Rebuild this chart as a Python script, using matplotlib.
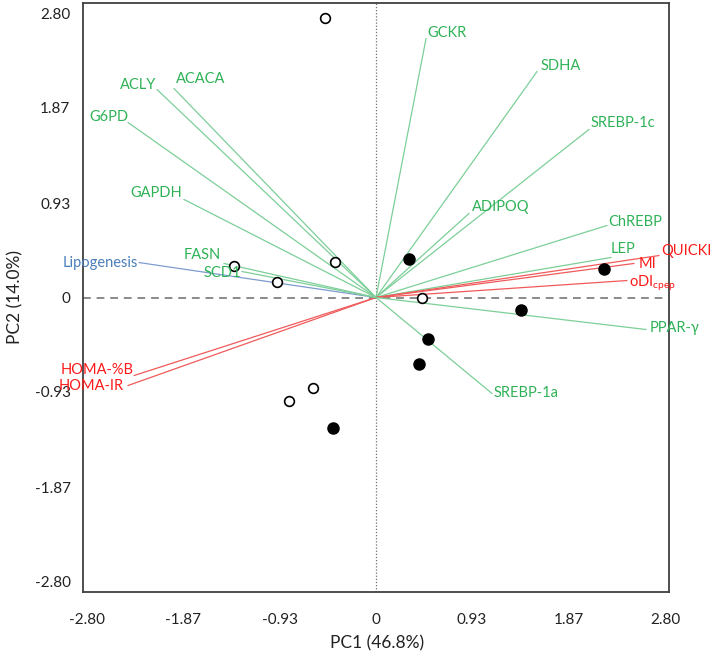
import matplotlib
matplotlib.use("Agg")
import matplotlib.pyplot as plt

plt.rcParams['font.family'] = ['Lato', 'DejaVu Sans']
plt.rcParams['mathtext.fontset'] = 'custom'
plt.rcParams['mathtext.rm'] = 'Lato'
plt.rcParams['mathtext.it'] = 'Lato:italic'

# ---- data ----
open_x = [-0.493, -0.397, -1.373, -0.957, 0.445, -0.609, -0.841]
open_y = [2.756, 0.354, 0.315, 0.148, 0.0, -0.896, -1.024]
filled_x = [0.319, 2.205, 1.402, 0.503, 0.416, -0.416]
filled_y = [0.384, 0.276, -0.128, -0.404, -0.650, -1.289]

var_names = ['GCKR', 'SDHA', 'SREBP-1c', 'ADIPOQ', 'ChREBP', 'LEP',
             'QUICKI', 'MI', r'oDI$_{\rm cpep}$', 'PPAR-γ', 'SREBP-1a',
             'HOMA-%B', 'HOMA-IR', 'Lipogenesis', 'FASN', 'SCD1',
             'GAPDH', 'G6PD', 'ACLY', 'ACACA']
var_x = [0.484, 1.557, 2.060, 0.899, 2.234, 2.273,
         2.737, 2.495, 2.427, 2.611, 1.122,
         -2.340, -2.398, -2.292, -1.470, -1.296,
         -1.857, -2.398, -2.118, -1.954]
var_y = [2.549, 2.224, 1.654, 0.827, 0.709, 0.394,
         0.413, 0.335, 0.167, -0.315, -0.945,
         -0.768, -0.866, 0.344, 0.335, 0.256,
         0.965, 1.722, 2.047, 2.057]
var_group = ['gene', 'gene', 'gene', 'gene', 'gene', 'gene',
             'index', 'index', 'index', 'gene', 'gene',
             'index', 'index', 'lipo', 'gene', 'gene',
             'gene', 'gene', 'gene', 'gene']

tick_vals = [-2.80, -1.87, -0.93, 0, 0.93, 1.87, 2.80]
tick_labels = ['-2.80', '-1.87', '-0.93', '0', '0.93', '1.87', '2.80']

# ---- styles ----
line_col = {'gene': '#7ccf98', 'index': '#f05a5a', 'lipo': '#7f9ccf'}
text_col = {'gene': '#2fb257', 'index': '#ff1a1a', 'lipo': '#4a7ebb'}
# label offsets in pixels (dx, dy) and horizontal alignment
label_off = {
    'GCKR': (1, 6, 'left'), 'SDHA': (4, 6, 'left'), 'SREBP-1c': (2, 7, 'left'),
    'ADIPOQ': (3, 7, 'left'), 'ChREBP': (1, 3, 'left'), 'LEP': (0, 8, 'left'),
    'QUICKI': (2, 5, 'left'), 'MI': (5, -1, 'left'), r'oDI$_{\rm cpep}$': (2, -3, 'left'),
    'PPAR-γ': (4, 1, 'left'), 'SREBP-1a': (2, 0, 'left'),
    'HOMA-%B': (-1, 5, 'right'), 'HOMA-IR': (-4, -1, 'right'),
    'Lipogenesis': (-1, 0, 'right'), 'FASN': (-3, 8, 'right'), 'SCD1': (-1, -1, 'right'),
    'GAPDH': (-2, 7, 'right'), 'G6PD': (0, 6, 'right'), 'ACLY': (-1, 5, 'right'),
    'ACACA': (2, 10, 'left'),
}

fig = plt.figure(figsize=(7.11, 6.57), dpi=100)
ax = fig.add_axes([83/711, 65/657, 586/711, 589/657])
ax.set_xlim(-2.835, 2.835)
ax.set_ylim(-2.90, 2.90)

ax.axhline(0, color='#8a8a8a', lw=1.4, ls=(0, (4, 3)), zorder=1)
ax.axvline(0, color='#707070', lw=0.9, ls=(0, (1, 1.5)), zorder=1)

for name, vx, vy, g in zip(var_names, var_x, var_y, var_group):
    ax.plot([0, vx], [0, vy], color=line_col[g], lw=0.9, zorder=2)
    dx, dy, ha = label_off[name]
    ax.annotate(name, xy=(vx, vy), xytext=(dx, dy), textcoords='offset pixels',
                ha=ha, va='center', color=text_col[g], fontsize=10.5, zorder=4,
                annotation_clip=False)

ax.plot(open_x, open_y, 'o', ms=7, mfc='white', mec='black', mew=1.2,
        ls='none', zorder=3)
ax.plot(filled_x, filled_y, 'o', ms=8, mfc='black', mec='black',
        ls='none', zorder=3)

ax.set_xticks(tick_vals)
ax.set_xticklabels(tick_labels)
ax.set_yticks(tick_vals)
ax.set_yticklabels(tick_labels)
ax.tick_params(axis='both', length=0, labelsize=11, labelcolor='#222222')
ax.tick_params(axis='x', pad=15)
ax.tick_params(axis='y', pad=9)

for s in ax.spines.values():
    s.set_color('#404040')
    s.set_linewidth(1.3)

fig.text(377/711, 1 - 643/657, 'PC1 (46.8%)', ha='center', va='center',
         fontsize=12.5, color='#222222')
fig.text(15/711, 1 - 297/657, 'PC2 (14.0%)', ha='center', va='center',
         rotation=90, fontsize=12.5, color='#222222')

fig.savefig('out.png', dpi=100)
